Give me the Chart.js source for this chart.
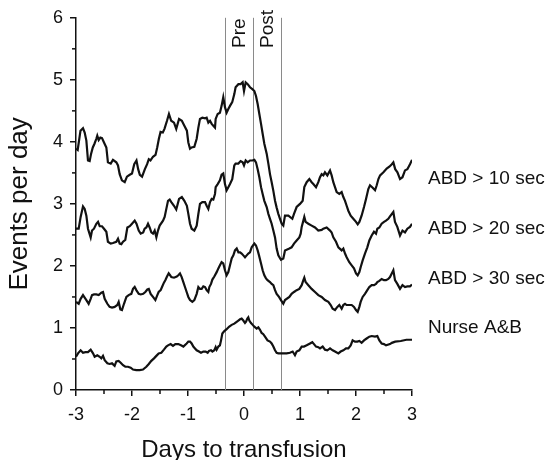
<!DOCTYPE html>
<html>
<head>
<meta charset="utf-8">
<script src="https://cdn.jsdelivr.net/npm/chart.js@4.4.1/dist/chart.umd.min.js"></script>
<style>
  html, body { margin: 0; padding: 0; background: #fff; }
  #wrap { width: 557px; height: 460px; }
</style>
</head>
<body>
<div id="wrap"><canvas id="chart" width="557" height="460"></canvas></div>
<script>
/* ---------- data ---------- */
const xTicks = [-3, -2, -1, 0, 1, 2, 3];
const yTicks = [0, 1, 2, 3, 4, 5, 6];
const seriesNames = ['ABD > 10 sec', 'ABD > 20 sec', 'ABD > 30 sec', 'Nurse A&B'];
const markerDays = [-1 / 3, 1 / 6, 2 / 3];
const markerNames = ['Pre', 'Post'];

const abd10Days = [-3.0, -2.97, -2.92, -2.875, -2.845, -2.815, -2.786, -2.756, -2.73, -2.70, -2.67, -2.637, -2.62, -2.595, -2.565, -2.536, -2.5, -2.458, -2.43, -2.38, -2.34, -2.28, -2.25, -2.22, -2.18, -2.13, -2.09, -2.04, -2.0, -1.96, -1.92, -1.89, -1.86, -1.82, -1.77, -1.73, -1.70, -1.67, -1.625, -1.58, -1.55, -1.52, -1.49, -1.45, -1.42, -1.375, -1.34, -1.30, -1.25, -1.21, -1.16, -1.11, -1.065, -1.02, -0.994, -0.964, -0.935, -0.887, -0.845, -0.815, -0.786, -0.744, -0.696, -0.667, -0.637, -0.607, -0.577, -0.548, -0.518, -0.506, -0.47, -0.43, -0.40, -0.37, -0.34, -0.31, -0.28, -0.25, -0.21, -0.173, -0.15, -0.10, -0.06, -0.024, 0.0, 0.03, 0.066, 0.107, 0.149, 0.185, 0.214, 0.244, 0.274, 0.304, 0.333, 0.363, 0.405, 0.435, 0.464, 0.494, 0.524, 0.554, 0.583, 0.613, 0.643, 0.673, 0.702, 0.732, 0.792, 0.863, 0.893, 0.94, 1.0, 1.048, 1.077, 1.119, 1.167, 1.208, 1.238, 1.286, 1.327, 1.357, 1.387, 1.417, 1.446, 1.488, 1.536, 1.565, 1.595, 1.625, 1.655, 1.702, 1.744, 1.774, 1.804, 1.833, 1.863, 1.905, 1.952, 2.0, 2.03, 2.06, 2.1, 2.143, 2.179, 2.22, 2.25, 2.298, 2.34, 2.37, 2.4, 2.43, 2.49, 2.548, 2.595, 2.64, 2.667, 2.70, 2.74, 2.786, 2.83, 2.875, 2.917, 2.964, 3.0];
const abd10Vals = [3.89, 3.87, 4.18, 4.22, 4.15, 4.02, 3.70, 3.69, 3.81, 3.91, 3.97, 4.05, 4.10, 4.03, 4.07, 4.06, 3.99, 3.91, 3.67, 3.65, 3.71, 3.67, 3.62, 3.48, 3.38, 3.35, 3.44, 3.47, 3.49, 3.64, 3.70, 3.56, 3.47, 3.44, 3.56, 3.64, 3.72, 3.70, 3.76, 3.79, 3.91, 4.05, 4.16, 4.15, 4.21, 4.34, 4.45, 4.34, 4.31, 4.21, 4.37, 4.34, 4.26, 4.18, 3.99, 3.89, 3.91, 3.92, 4.05, 4.23, 4.37, 4.39, 4.38, 4.39, 4.31, 4.34, 4.29, 4.26, 4.23, 4.37, 4.45, 4.47, 4.58, 4.72, 4.56, 4.47, 4.53, 4.58, 4.64, 4.77, 4.88, 4.93, 4.93, 4.96, 4.82, 4.96, 4.93, 4.88, 4.85, 4.82, 4.74, 4.61, 4.45, 4.29, 4.13, 3.97, 3.81, 3.65, 3.48, 3.35, 3.21, 3.05, 2.94, 2.84, 2.76, 2.68, 2.65, 2.81, 2.81, 2.76, 2.84, 2.95, 3.0, 3.05, 3.27, 3.35, 3.40, 3.35, 3.32, 3.27, 3.35, 3.43, 3.48, 3.46, 3.51, 3.46, 3.54, 3.46, 3.35, 3.27, 3.19, 3.16, 3.19, 3.11, 3.05, 2.97, 2.89, 2.81, 2.76, 2.71, 2.67, 2.71, 2.81, 2.95, 3.08, 3.24, 3.30, 3.26, 3.22, 3.30, 3.40, 3.46, 3.51, 3.57, 3.60, 3.64, 3.67, 3.56, 3.51, 3.40, 3.43, 3.54, 3.56, 3.64, 3.71];

const abd20Days = [-3.0, -2.952, -2.917, -2.875, -2.845, -2.815, -2.786, -2.738, -2.714, -2.679, -2.637, -2.607, -2.577, -2.536, -2.5, -2.458, -2.43, -2.38, -2.34, -2.28, -2.25, -2.22, -2.19, -2.16, -2.12, -2.083, -2.04, -2.0, -1.952, -1.92, -1.88, -1.845, -1.80, -1.774, -1.744, -1.714, -1.685, -1.655, -1.625, -1.595, -1.565, -1.536, -1.506, -1.446, -1.417, -1.387, -1.357, -1.327, -1.298, -1.25, -1.21, -1.16, -1.11, -1.065, -1.02, -0.994, -0.964, -0.935, -0.887, -0.845, -0.815, -0.786, -0.744, -0.696, -0.667, -0.637, -0.607, -0.577, -0.548, -0.518, -0.506, -0.47, -0.43, -0.40, -0.37, -0.34, -0.31, -0.28, -0.25, -0.21, -0.173, -0.15, -0.101, -0.06, -0.024, 0.0, 0.03, 0.066, 0.107, 0.149, 0.185, 0.214, 0.244, 0.274, 0.304, 0.333, 0.363, 0.405, 0.435, 0.464, 0.494, 0.524, 0.554, 0.583, 0.613, 0.66, 0.702, 0.732, 0.81, 0.85, 0.893, 0.94, 0.988, 1.012, 1.03, 1.06, 1.077, 1.1, 1.149, 1.208, 1.268, 1.327, 1.387, 1.417, 1.476, 1.536, 1.565, 1.595, 1.643, 1.685, 1.744, 1.774, 1.804, 1.833, 1.88, 1.923, 1.964, 2.0, 2.03, 2.06, 2.083, 2.119, 2.16, 2.202, 2.238, 2.28, 2.321, 2.357, 2.381, 2.417, 2.458, 2.5, 2.536, 2.577, 2.607, 2.667, 2.696, 2.738, 2.786, 2.83, 2.875, 2.917, 2.964, 3.0];
const abd20Vals = [2.60, 2.60, 2.79, 2.96, 2.92, 2.81, 2.60, 2.46, 2.57, 2.60, 2.68, 2.71, 2.64, 2.64, 2.60, 2.55, 2.39, 2.36, 2.37, 2.39, 2.44, 2.36, 2.35, 2.39, 2.42, 2.62, 2.64, 2.68, 2.73, 2.68, 2.57, 2.52, 2.54, 2.60, 2.62, 2.68, 2.62, 2.54, 2.52, 2.57, 2.46, 2.57, 2.65, 2.73, 2.79, 2.92, 3.05, 3.07, 3.03, 2.97, 2.91, 3.08, 3.11, 3.05, 2.97, 2.84, 2.68, 2.60, 2.57, 2.65, 2.84, 3.0, 3.03, 3.03, 2.97, 2.92, 3.03, 3.08, 3.07, 3.16, 3.27, 3.32, 3.38, 3.47, 3.49, 3.32, 3.22, 3.27, 3.32, 3.40, 3.62, 3.65, 3.65, 3.69, 3.67, 3.62, 3.70, 3.67, 3.70, 3.70, 3.71, 3.67, 3.56, 3.43, 3.27, 3.16, 3.05, 2.95, 2.84, 2.76, 2.68, 2.57, 2.46, 2.28, 2.17, 2.10, 2.12, 2.25, 2.28, 2.30, 2.36, 2.41, 2.46, 2.52, 2.63, 2.73, 2.79, 2.71, 2.68, 2.65, 2.62, 2.57, 2.58, 2.60, 2.62, 2.57, 2.54, 2.46, 2.39, 2.30, 2.25, 2.28, 2.20, 2.14, 2.06, 2.01, 1.96, 1.88, 1.85, 1.90, 1.98, 2.09, 2.20, 2.30, 2.41, 2.49, 2.55, 2.52, 2.60, 2.62, 2.68, 2.71, 2.73, 2.76, 2.80, 2.87, 2.71, 2.63, 2.49, 2.57, 2.54, 2.60, 2.63, 2.68];

const abd30Days = [-3.0, -2.952, -2.917, -2.875, -2.845, -2.815, -2.774, -2.738, -2.714, -2.679, -2.637, -2.595, -2.548, -2.518, -2.488, -2.44, -2.4, -2.357, -2.31, -2.262, -2.238, -2.208, -2.179, -2.143, -2.1, -2.06, -2.012, -1.982, -1.952, -1.923, -1.88, -1.845, -1.80, -1.762, -1.726, -1.70, -1.667, -1.625, -1.583, -1.548, -1.524, -1.488, -1.464, -1.43, -1.405, -1.375, -1.345, -1.32, -1.298, -1.25, -1.20, -1.173, -1.143, -1.113, -1.083, -1.054, -1.024, -0.994, -0.964, -0.923, -0.887, -0.845, -0.815, -0.786, -0.756, -0.726, -0.696, -0.667, -0.637, -0.619, -0.589, -0.565, -0.53, -0.488, -0.458, -0.43, -0.40, -0.37, -0.34, -0.31, -0.28, -0.25, -0.22, -0.19, -0.161, -0.13, -0.10, -0.07, -0.042, -0.012, 0.018, 0.048, 0.077, 0.107, 0.137, 0.185, 0.214, 0.244, 0.268, 0.304, 0.333, 0.363, 0.393, 0.42, 0.464, 0.494, 0.524, 0.554, 0.583, 0.625, 0.66, 0.702, 0.732, 0.81, 0.85, 0.893, 0.94, 0.988, 1.03, 1.06, 1.077, 1.1, 1.149, 1.208, 1.268, 1.327, 1.387, 1.446, 1.506, 1.548, 1.583, 1.625, 1.667, 1.702, 1.744, 1.774, 1.804, 1.833, 1.88, 1.923, 1.964, 2.0, 2.03, 2.06, 2.083, 2.119, 2.16, 2.202, 2.238, 2.28, 2.321, 2.357, 2.381, 2.417, 2.458, 2.5, 2.536, 2.577, 2.607, 2.667, 2.696, 2.738, 2.786, 2.83, 2.875, 2.917, 2.964, 3.0];
const abd30Vals = [1.42, 1.39, 1.47, 1.53, 1.49, 1.45, 1.39, 1.47, 1.53, 1.54, 1.54, 1.53, 1.57, 1.58, 1.47, 1.39, 1.34, 1.33, 1.34, 1.37, 1.42, 1.30, 1.29, 1.39, 1.50, 1.53, 1.55, 1.63, 1.66, 1.61, 1.55, 1.54, 1.55, 1.58, 1.62, 1.63, 1.55, 1.50, 1.45, 1.53, 1.58, 1.61, 1.66, 1.73, 1.77, 1.83, 1.88, 1.85, 1.82, 1.81, 1.83, 1.85, 1.88, 1.82, 1.74, 1.66, 1.58, 1.50, 1.45, 1.42, 1.45, 1.55, 1.66, 1.63, 1.63, 1.67, 1.66, 1.61, 1.58, 1.66, 1.71, 1.78, 1.83, 1.90, 1.96, 2.01, 2.06, 2.04, 1.93, 1.85, 1.90, 2.01, 2.12, 2.17, 2.25, 2.28, 2.22, 2.22, 2.20, 2.17, 2.14, 2.17, 2.20, 2.22, 2.30, 2.36, 2.33, 2.25, 2.17, 2.04, 1.93, 1.85, 1.80, 1.77, 1.74, 1.71, 1.69, 1.61, 1.55, 1.50, 1.45, 1.39, 1.45, 1.50, 1.55, 1.58, 1.61, 1.63, 1.69, 1.77, 1.81, 1.74, 1.69, 1.63, 1.58, 1.53, 1.50, 1.45, 1.42, 1.37, 1.31, 1.29, 1.34, 1.37, 1.31, 1.37, 1.39, 1.37, 1.37, 1.37, 1.34, 1.29, 1.26, 1.34, 1.42, 1.50, 1.55, 1.61, 1.66, 1.69, 1.69, 1.71, 1.74, 1.76, 1.79, 1.77, 1.77, 1.79, 1.82, 1.93, 1.77, 1.71, 1.63, 1.69, 1.66, 1.67, 1.67, 1.70];

const nurseDays = [-3.0, -2.964, -2.917, -2.875, -2.833, -2.786, -2.738, -2.696, -2.667, -2.619, -2.577, -2.548, -2.518, -2.488, -2.44, -2.40, -2.357, -2.31, -2.28, -2.238, -2.202, -2.16, -2.119, -2.071, -2.024, -1.982, -1.923, -1.863, -1.804, -1.744, -1.70, -1.655, -1.607, -1.565, -1.524, -1.476, -1.43, -1.387, -1.357, -1.31, -1.268, -1.226, -1.173, -1.125, -1.083, -1.024, -0.994, -0.964, -0.935, -0.905, -0.875, -0.845, -0.804, -0.768, -0.726, -0.685, -0.649, -0.625, -0.589, -0.565, -0.53, -0.506, -0.488, -0.458, -0.43, -0.41, -0.387, -0.351, -0.31, -0.268, -0.22, -0.173, -0.131, -0.101, -0.071, -0.042, -0.012, 0.018, 0.036, 0.06, 0.077, 0.095, 0.125, 0.155, 0.185, 0.226, 0.256, 0.286, 0.315, 0.345, 0.375, 0.42, 0.464, 0.494, 0.524, 0.554, 0.583, 0.613, 0.66, 0.70, 0.762, 0.82, 0.869, 0.91, 0.94, 0.988, 1.03, 1.071, 1.119, 1.179, 1.22, 1.25, 1.286, 1.327, 1.357, 1.405, 1.446, 1.488, 1.536, 1.583, 1.625, 1.685, 1.726, 1.774, 1.821, 1.863, 1.905, 1.94, 1.982, 2.024, 2.06, 2.1, 2.143, 2.19, 2.238, 2.28, 2.34, 2.381, 2.417, 2.458, 2.5, 2.536, 2.607, 2.64, 2.70, 2.80, 2.90, 3.0];
const nurseVals = [0.535, 0.59, 0.64, 0.60, 0.61, 0.61, 0.65, 0.59, 0.535, 0.56, 0.535, 0.51, 0.55, 0.48, 0.43, 0.42, 0.43, 0.39, 0.46, 0.47, 0.44, 0.40, 0.375, 0.375, 0.36, 0.33, 0.32, 0.32, 0.33, 0.375, 0.42, 0.47, 0.51, 0.55, 0.59, 0.60, 0.65, 0.70, 0.72, 0.74, 0.71, 0.74, 0.74, 0.72, 0.70, 0.75, 0.78, 0.78, 0.75, 0.70, 0.67, 0.64, 0.62, 0.60, 0.62, 0.62, 0.60, 0.63, 0.64, 0.62, 0.64, 0.69, 0.65, 0.70, 0.72, 0.80, 0.91, 0.95, 0.98, 1.02, 1.05, 1.07, 1.10, 1.12, 1.14, 1.15, 1.12, 1.08, 1.10, 1.15, 1.17, 1.12, 1.08, 1.05, 1.02, 0.99, 1.01, 0.97, 0.92, 0.90, 0.86, 0.80, 0.78, 0.75, 0.70, 0.64, 0.60, 0.59, 0.59, 0.59, 0.59, 0.60, 0.62, 0.56, 0.62, 0.64, 0.70, 0.70, 0.72, 0.75, 0.77, 0.74, 0.70, 0.69, 0.67, 0.70, 0.65, 0.64, 0.67, 0.64, 0.62, 0.59, 0.62, 0.64, 0.67, 0.67, 0.72, 0.80, 0.78, 0.78, 0.79, 0.76, 0.80, 0.83, 0.86, 0.87, 0.86, 0.87, 0.80, 0.75, 0.74, 0.72, 0.74, 0.76, 0.78, 0.79, 0.81, 0.81];

/* ---------- helpers ---------- */
const FONT = '"Liberation Sans", Arial, Helvetica, sans-serif';
const labelLevels = [3.4, 2.6, 1.8, 1.0];   // where the right-hand names sit (data units)

function toPoints(days, vals) {
  return days.map((d, i) => ({ x: d, y: vals[i] }));
}

const seriesDays = [abd10Days, abd20Days, abd30Days, nurseDays];
const seriesVals = [abd10Vals, abd20Vals, abd30Vals, nurseVals];

const datasets = seriesNames.map((name, i) => ({
  label: name,
  data: toPoints(seriesDays[i], seriesVals[i]),
  borderColor: '#111',
  borderWidth: 2.2,
  pointRadius: 0,
  tension: 0,
  fill: false
}));

/* ---------- extras: minor ticks, marker lines, labels, titles ---------- */
const extras = {
  id: 'extras',
  beforeDatasetsDraw(chart) {
    const { ctx, chartArea: a, scales: { x } } = chart;
    ctx.save();
    ctx.strokeStyle = '#8a8a8a';
    ctx.lineWidth = 1;
    markerDays.forEach(d => {
      const px = Math.round(x.getPixelForValue(d)) + 0.5;
      ctx.beginPath();
      ctx.moveTo(px, a.top);
      ctx.lineTo(px, a.bottom);
      ctx.stroke();
    });
    ctx.restore();
  },
  afterDraw(chart) {
    const { ctx, chartArea: a, scales: { x, y } } = chart;
    ctx.save();

    // minor ticks at the half units
    ctx.strokeStyle = '#111';
    ctx.lineWidth = 1.5;
    for (let v = -2.5; v < 3; v += 1) {
      const px = x.getPixelForValue(v);
      ctx.beginPath(); ctx.moveTo(px, a.bottom); ctx.lineTo(px, a.bottom + 4); ctx.stroke();
    }
    for (let v = 0.5; v < 6; v += 1) {
      const py = y.getPixelForValue(v);
      ctx.beginPath(); ctx.moveTo(a.left, py); ctx.lineTo(a.left - 4, py); ctx.stroke();
    }

    ctx.fillStyle = '#111';

    // Pre / Post, rotated, between the marker lines
    ctx.font = '19px ' + FONT;
    ctx.textAlign = 'left';
    ctx.textBaseline = 'middle';
    markerNames.forEach((t, i) => {
      const cx = (x.getPixelForValue(markerDays[i]) + x.getPixelForValue(markerDays[i + 1])) / 2;
      ctx.save();
      ctx.translate(cx, 48);
      ctx.rotate(-Math.PI / 2);
      ctx.fillText(t, 0, 0);
      ctx.restore();
    });

    // series names on the right
    seriesNames.forEach((t, i) => {
      ctx.fillText(t, a.right + 16, y.getPixelForValue(labelLevels[i]));
    });

    // axis titles
    ctx.textAlign = 'center';
    ctx.font = '24px ' + FONT;
    ctx.fillText('Days to transfusion', (a.left + a.right) / 2, 450);
    ctx.font = '26px ' + FONT;
    ctx.save();
    ctx.translate(20, (a.top + a.bottom) / 2);
    ctx.rotate(-Math.PI / 2);
    ctx.fillText('Events per day', 0, 0);
    ctx.restore();

    ctx.restore();
  }
};

/* ---------- chart ---------- */
new Chart(document.getElementById('chart'), {
  type: 'line',
  data: { datasets },
  plugins: [extras],
  options: {
    responsive: false,
    animation: false,
    devicePixelRatio: 1,
    layout: { padding: { top: 17, right: 145, bottom: 0, left: 0 } },
    plugins: { legend: { display: false }, tooltip: { enabled: false } },
    scales: {
      x: {
        type: 'linear',
        min: xTicks[0],
        max: xTicks[xTicks.length - 1],
        afterBuildTicks: s => { s.ticks = xTicks.map(v => ({ value: v })); },
        afterFit: s => { s.height = 70; },
        ticks: { color: '#111', font: { size: 18, family: FONT }, padding: 8, maxRotation: 0 },
        grid: { drawOnChartArea: false, drawTicks: true, tickLength: 6, color: '#111', lineWidth: 1.5 },
        border: { display: true, color: '#111', width: 1.5 }
      },
      y: {
        type: 'linear',
        min: yTicks[0],
        max: yTicks[yTicks.length - 1],
        afterBuildTicks: s => { s.ticks = yTicks.map(v => ({ value: v })); },
        afterFit: s => { s.width = 76; },
        ticks: { color: '#111', font: { size: 18, family: FONT }, padding: 7 },
        grid: { drawOnChartArea: false, drawTicks: true, tickLength: 6, color: '#111', lineWidth: 1.5 },
        border: { display: true, color: '#111', width: 1.5 }
      }
    }
  }
});
</script>
</body>
</html>
